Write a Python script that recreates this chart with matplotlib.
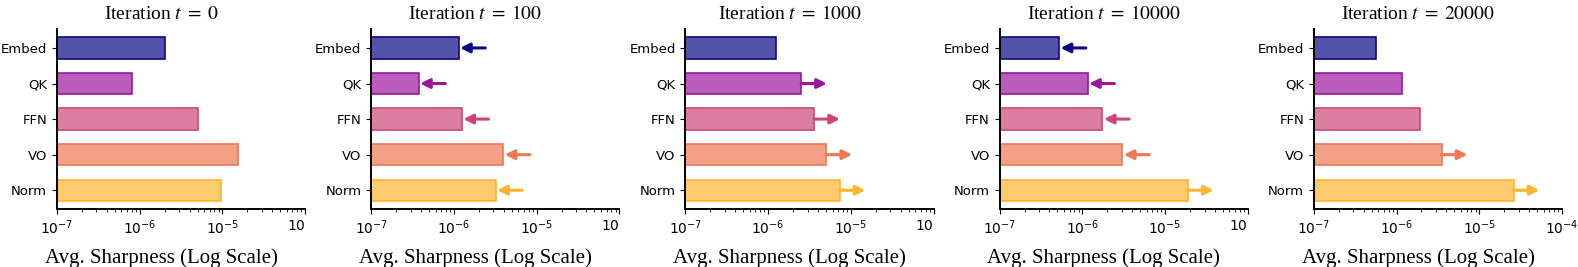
import numpy as np
from matplotlib import pyplot as plt

# layer groups (top to bottom)
layers = ['Embed', 'QK', 'FFN', 'VO', 'Norm']

# iterations shown in each panel
iterations = [0, 100, 1000, 10000, 20000]

# average sharpness per layer group
sharp_t0 = [2.0e-6, 8.0e-7, 5.0e-6, 1.55e-5, 9.6e-6]
sharp_t100 = [1.14e-6, 3.75e-7, 1.25e-6, 3.95e-6, 3.2e-6]
sharp_t1000 = [1.23e-6, 2.5e-6, 3.6e-6, 5.05e-6, 7.3e-6]
sharp_t10000 = [5.25e-7, 1.16e-6, 1.75e-6, 3.05e-6, 1.88e-5]
sharp_t20000 = [5.6e-7, 1.15e-6, 1.92e-6, 3.5e-6, 2.6e-5]

# trend arrows: -1 = decreasing, 1 = increasing, 0 = no arrow
trend_t0 = [0, 0, 0, 0, 0]
trend_t100 = [-1, -1, -1, -1, -1]
trend_t1000 = [0, 1, 1, 1, 1]
trend_t10000 = [-1, -1, -1, -1, 1]
trend_t20000 = [0, 0, 0, 1, 1]

sharpness = [sharp_t0, sharp_t100, sharp_t1000, sharp_t10000, sharp_t20000]
trends = [trend_t0, trend_t100, trend_t1000, trend_t10000, trend_t20000]

# plasma-like colours, one per layer group
colors = ['#0d0887', '#9c179e', '#cc4778', '#ed7953', '#fdb42f']

xmin = 1e-7

plt.rcParams['mathtext.fontset'] = 'stix'

fig, axes = plt.subplots(1, 5, figsize=(15.78, 2.67), dpi=100)
plt.subplots_adjust(left=0.0361, right=0.9899, bottom=0.217, top=0.891, wspace=0.266)

for i, ax in enumerate(axes):
    vals = np.array(sharpness[i])
    y = np.arange(len(layers))

    # bars: translucent fill with solid edge, starting at the left limit
    for j in range(len(layers)):
        ax.barh(y[j], vals[j] - xmin, height=0.6, left=xmin, color=colors[j],
                alpha=0.7, edgecolor='none')
        ax.barh(y[j], vals[j] - xmin, height=0.6, left=xmin, color='none',
                edgecolor=colors[j], linewidth=1.2)

    # arrows showing the direction of change
    for j in range(len(layers)):
        d = trends[i][j]
        if d == 0:
            continue
        if d < 0:
            start, end = vals[j] * 2.1, vals[j] * 1.04
        else:
            start, end = vals[j], vals[j] * 2.05
        ax.annotate('', xy=(end, y[j]), xytext=(start, y[j]),
                    arrowprops=dict(arrowstyle='-|>', color=colors[j], lw=2.2,
                                    mutation_scale=14, shrinkA=0, shrinkB=0))

    ax.set_xscale('log')
    ax.set_xlim(xmin, 1e-4)
    ax.set_ylim(4.53, -0.53)
    ax.set_yticks(y)
    ax.set_yticklabels(layers, fontsize=9.5)

    # last label of the first four panels is cut off in the original
    ax.set_xticks([1e-7, 1e-6, 1e-5, 1e-4])
    if i < 4:
        ax.set_xticklabels([r'$\mathdefault{10^{-7}}$', r'$\mathdefault{10^{-6}}$',
                            r'$\mathdefault{10^{-5}}$', r'$\mathdefault{10}$'],
                           fontsize=10, family='DejaVu Sans')
        ax.get_xticklabels()[-1].set_horizontalalignment('right')
    else:
        ax.set_xticklabels([r'$\mathdefault{10^{-7}}$', r'$\mathdefault{10^{-6}}$',
                            r'$\mathdefault{10^{-5}}$', r'$\mathdefault{10^{-4}}$'],
                           fontsize=10, family='DejaVu Sans')

    ax.spines['top'].set_visible(False)
    ax.spines['right'].set_visible(False)
    ax.spines['left'].set_linewidth(1.4)
    ax.spines['bottom'].set_linewidth(1.4)

    # title and x label sit a bit left of the axes centre in the original
    ax.set_title(r'Iteration $t\;=\;' + str(iterations[i]) + '$', fontsize=14,
                 family='Liberation Serif', pad=7, x=0.42)
    ax.set_xlabel('Avg. Sharpness (Log Scale)', fontsize=15,
                  family='Liberation Serif', labelpad=8)
    ax.xaxis.label.set_x(0.42)

plt.savefig('out.png', dpi=100)
